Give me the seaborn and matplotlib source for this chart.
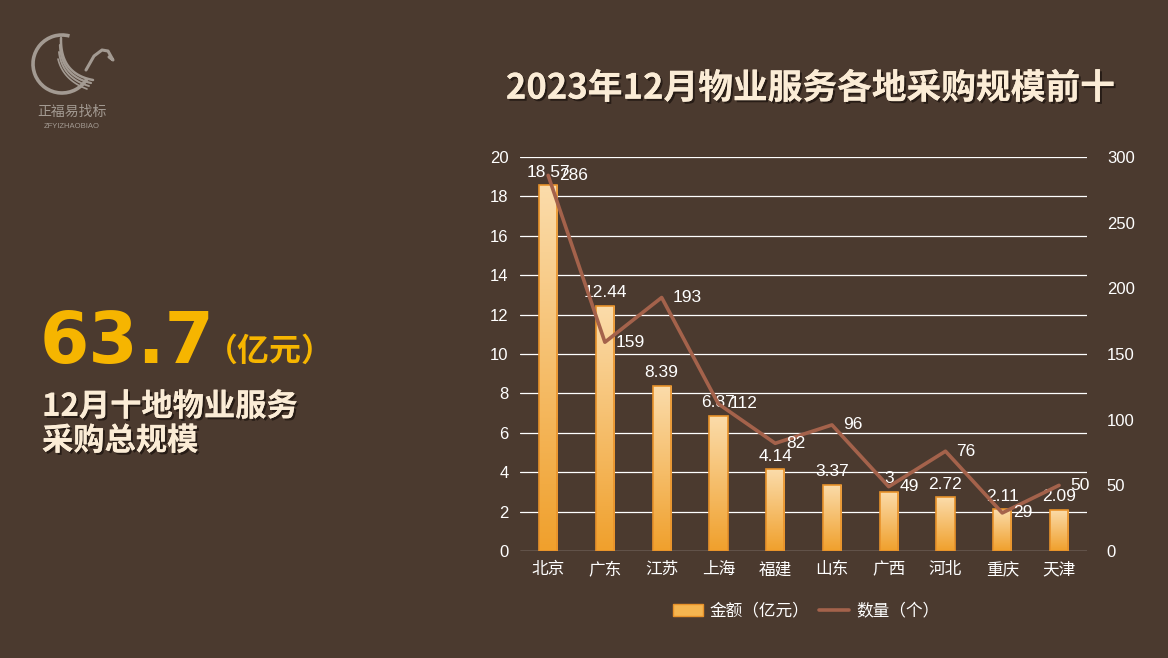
import numpy as np
import pandas as pd
import matplotlib
matplotlib.use('Agg')
import matplotlib.pyplot as plt
import matplotlib.patheffects as pe
from matplotlib.patches import Arc, Patch
from matplotlib.lines import Line2D
import seaborn as sns

sns.set_theme(style='white')
plt.rcParams['font.family'] = ['Liberation Sans', 'Noto Sans CJK SC', 'DejaVu Sans']
plt.rcParams['axes.unicode_minus'] = False

# 数据
regions = ['北京', '广东', '江苏', '上海', '福建', '山东', '广西', '河北', '重庆', '天津']
amount = [18.57, 12.44, 8.39, 6.87, 4.14, 3.37, 3.00, 2.72, 2.11, 2.09]   # 金额（亿元）
count = [286, 159, 193, 112, 82, 96, 49, 76, 29, 50]                     # 数量（个）
left_ticks = [0, 2, 4, 6, 8, 10, 12, 14, 16, 18, 20]
right_ticks = [0, 50, 100, 150, 200, 250, 300]

df = pd.DataFrame({'地区': regions, '金额': amount, '数量': count})

bg = '#4b3a2f'
white = '#ffffff'
cream = '#fbecd6'
gold = '#f6b500'
line_c = '#a4624b'
bar_top = '#fbdcab'
bar_bot = '#f0a02c'
bar_edge = '#e8922a'
cjk = ['Noto Sans CJK SC', 'DejaVu Sans']

fig = plt.figure(figsize=(11.68, 6.58), dpi=100, facecolor=bg)
ax = fig.add_axes([0.445, 0.1626, 0.486, 0.5988])
ax.set_facecolor(bg)

# 柱状图
sns.barplot(data=df, x='地区', y='金额', ax=ax, width=0.32,
            color=bar_bot, edgecolor=bar_edge, linewidth=1.2, zorder=3)

# 渐变填充
grad = np.linspace(0, 1, 256)[:, None, None]
c1 = np.array(matplotlib.colors.to_rgb(bar_bot))
c2 = np.array(matplotlib.colors.to_rgb(bar_top))
img = c1 * (1 - grad) + c2 * grad
for p in ax.patches:
    x0, w, h = p.get_x(), p.get_width(), p.get_height()
    im = ax.imshow(img, extent=[x0, x0 + w, 0, h], origin='lower',
                   aspect='auto', zorder=3.5)
    im.set_clip_path(p)
    p.set_facecolor('none')
    p.set_zorder(4)

ax.set_xlim(-0.5, len(regions) - 0.5)
ax.set_ylim(0, 20)
ax.set_yticks(left_ticks)
ax.yaxis.grid(True, color=white, linewidth=0.9)
ax.set_axisbelow(True)
ax.set_xlabel('')
ax.set_ylabel('')
ax.tick_params(axis='both', colors=white, labelsize=12, length=0, pad=8)
for s in ax.spines.values():
    s.set_visible(False)

ax.bar_label(ax.containers[0], labels=[f'{v:g}' for v in amount],
             padding=4, color=white, fontsize=12.5, zorder=6)

# 折线图（次坐标轴）
ax2 = ax.twinx()
sns.lineplot(x=np.arange(len(regions)), y=count, ax=ax2, color=line_c,
             linewidth=2.6, zorder=5)
ax2.set_ylim(0, 300)
ax2.set_yticks(right_ticks)
ax2.tick_params(axis='y', colors=white, labelsize=12, length=0, pad=14)
for s in ax2.spines.values():
    s.set_visible(False)
for i, v in enumerate(count):
    ax2.annotate(str(v), (i, v), xytext=(8, 0), textcoords='offset points',
                 ha='left', va='center', color=white, fontsize=12.5, zorder=7)

# 图例
handles = [Patch(facecolor='#f5b550', edgecolor=bar_edge),
           Line2D([0], [0], color=line_c, linewidth=2.6)]
fig.legend(handles, ['金额（亿元）', '数量（个）'], loc='center',
           bbox_to_anchor=(0.69, 0.071), ncol=2, frameon=False,
           labelcolor=white, prop={'family': cjk, 'size': 12},
           handlelength=1.8, columnspacing=0.6, handletextpad=0.4)

# 标题
shadow = [pe.withSimplePatchShadow(offset=(1.5, -1.5), shadow_rgbFace='#1e1510', alpha=0.8),
          pe.Normal()]
fig.text(0.694, 0.866, '2023年12月物业服务各地采购规模前十', ha='center', va='center',
         color=cream, fontsize=25, fontweight='bold', family=cjk, path_effects=shadow)

# 左侧总规模
fig.text(0.034, 0.449, '63.7', ha='left', va='baseline', color=gold,
         fontsize=51, fontweight='bold', family=['DejaVu Sans'])
fig.text(0.176, 0.452, '（亿元）', ha='left', va='baseline', color=gold,
         fontsize=23, fontweight='bold', family=cjk)
fig.text(0.036, 0.368, '12月十地物业服务', ha='left', va='baseline', color=cream,
         fontsize=22.5, fontweight='bold', family=cjk, path_effects=shadow)
fig.text(0.036, 0.316, '采购总规模', ha='left', va='baseline', color=cream,
         fontsize=22.5, fontweight='bold', family=cjk, path_effects=shadow)

# 标志（像素坐标）
lax = fig.add_axes([20 / 1168, 1 - 140 / 658, 120 / 1168, 120 / 658])
lax.set_xlim(20, 140)
lax.set_ylim(140, 20)
lax.axis('off')
logo_c = '#a39a92'
lax.add_patch(Arc((62, 64), 58, 58, theta1=30, theta2=285,
                  color=logo_c, linewidth=2.6))


def bez(p0, p1, p2):
    t = np.linspace(0, 1, 40)[:, None]
    pts = (1 - t) ** 2 * np.array(p0) + 2 * (1 - t) * t * np.array(p1) + t ** 2 * np.array(p2)
    return pts[:, 0], pts[:, 1]


for k in range(4):
    bx, by = bez((61 - k, 38 + 7 * k), (60 + k, 74 + 2 * k), (93 - 2 * k, 80 + 3 * k))
    lax.plot(bx, by, color=logo_c, linewidth=1.8 - 0.2 * k, solid_capstyle='round')
lax.plot([86, 94, 102, 108, 113, 109], [70, 56, 50, 51, 60, 57],
         color=logo_c, linewidth=2.2, solid_capstyle='round')
lax.text(72, 112, '正福易找标', ha='center', va='center', color=logo_c,
         fontsize=10, family=cjk)
lax.text(72, 126, 'ZFYIZHAOBIAO', ha='center', va='center', color=logo_c,
         fontsize=5.5)

fig.savefig('out.png', dpi=100, facecolor=bg)
